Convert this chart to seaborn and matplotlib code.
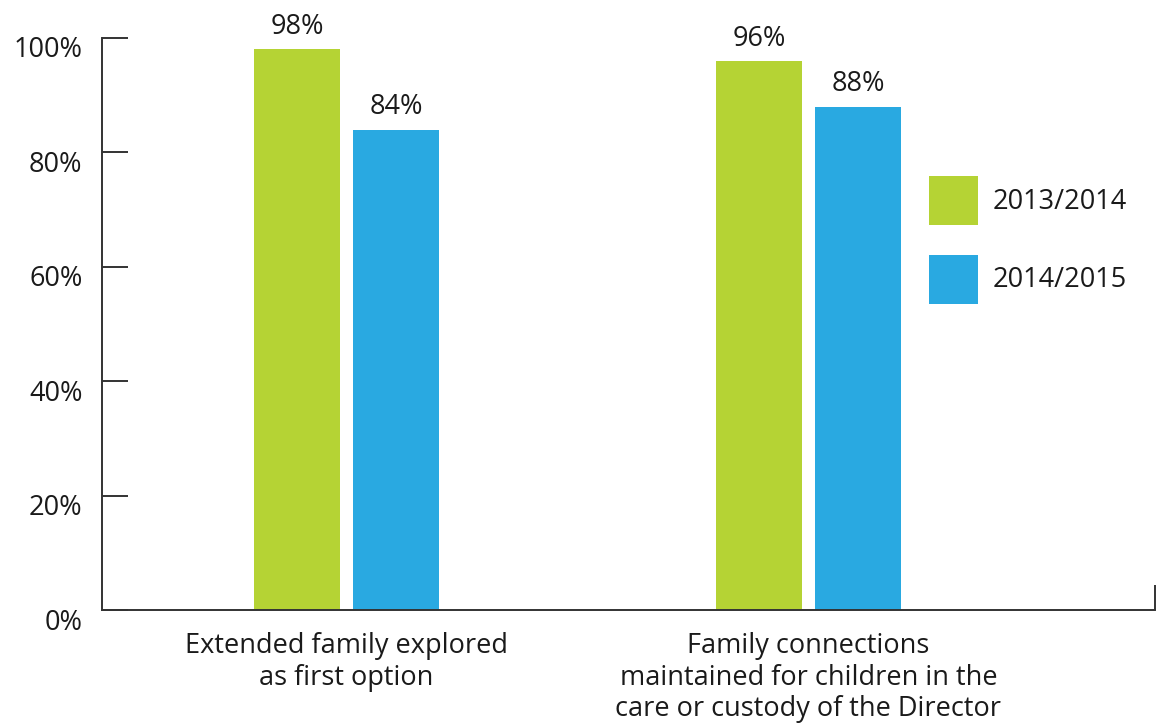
import matplotlib
matplotlib.use("Agg")
import matplotlib.pyplot as plt
from matplotlib.transforms import ScaledTranslation
import seaborn as sns
import pandas as pd

categories = [
    "Extended family explored\nas first option",
    "Family connections\nmaintained for children in the\ncare or custody of the Director",
]
years = ["2013/2014", "2014/2015"]
values_2013_2014 = [98, 96]
values_2014_2015 = [84, 88]
yticks = [0, 20, 40, 60, 80, 100]
colors = ["#B5D334", "#29A9E1"]

df = pd.DataFrame({
    "category": categories * 2,
    "year": [years[0]] * 2 + [years[1]] * 2,
    "value": values_2013_2014 + values_2014_2015,
})

sns.set_theme(style="white")
plt.rcParams["font.family"] = ["Open Sans", "DejaVu Sans"]
FS = 19.5
ink = "#1a1a1a"

fig = plt.figure(figsize=(11.63, 7.25), dpi=100)
ax = fig.add_axes([0.0877, 0.1586, 0.9054, 0.789])

sns.barplot(data=df, x="category", y="value", hue="year", order=categories,
            hue_order=years, palette=colors, width=0.4286, gap=0.13,
            saturation=1, ax=ax, linewidth=0)

for cont in ax.containers:
    ax.bar_label(cont, labels=[f"{v:.0f}%" for v in cont.datavalues],
                 padding=6, fontsize=FS, color=ink)

ax.set_xlim(-0.529, 1.75)
ax.set_ylim(0, 100)
ax.set_xlabel("")
ax.set_ylabel("")

for s in ["top", "right"]:
    ax.spines[s].set_visible(False)
for s in ["left", "bottom"]:
    ax.spines[s].set_color("#333333")
    ax.spines[s].set_linewidth(1.4)

ax.set_yticks(yticks)
ax.set_yticklabels([f"{t}%" for t in yticks], fontsize=FS, color=ink)
ax.tick_params(axis="y", direction="in", length=19, width=1.4,
               color="#333333", pad=14, left=True)
shift = ScaledTranslation(0, -9 / 100, fig.dpi_scale_trans)
for lab in ax.get_yticklabels():
    lab.set_transform(lab.get_transform() + shift)

ax.tick_params(axis="x", which="major", length=0, pad=16)
for lab in ax.get_xticklabels():
    lab.set_fontsize(FS)
    lab.set_color(ink)
    lab.set_linespacing(1.16)
    lab.set_horizontalalignment("center")

ax.set_xticks([ax.get_xlim()[1]], minor=True)
ax.tick_params(axis="x", which="minor", direction="in", length=18,
               width=1.4, color="#333333", bottom=True)

leg = ax.legend(loc="upper left", bbox_to_anchor=(0.7726, 0.783), frameon=False,
                fontsize=FS, handlelength=1.81, handleheight=2.41,
                labelspacing=1.1, handletextpad=0.55, borderpad=0)
for t in leg.get_texts():
    t.set_color(ink)

fig.savefig("out.png", dpi=100, facecolor="white")
